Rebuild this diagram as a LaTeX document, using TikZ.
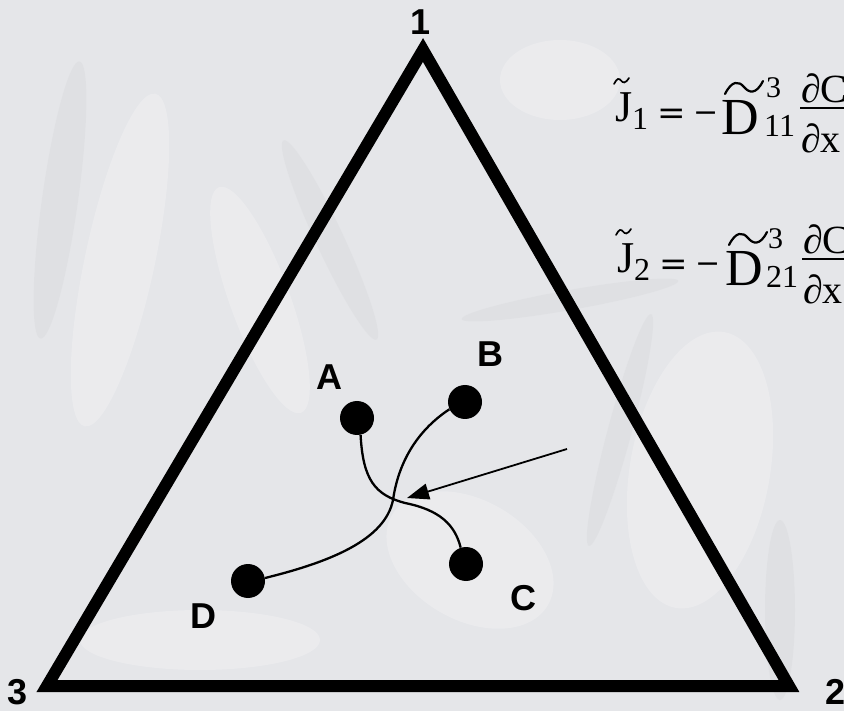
\documentclass[tikz,border=0pt]{standalone}
\usepackage{fontspec}
\setmainfont{Liberation Serif}
\newfontfamily\labfont{Liberation Sans}
\newfontfamily\symfont{DejaVu Serif}
\usetikzlibrary{arrows.meta}
\definecolor{bgc}{RGB}{229,230,233}
\definecolor{bgl}{RGB}{240,240,242}
\definecolor{bgd}{RGB}{214,215,218}
\tikzset{
  lab/.style={font={\labfont\bfseries\fontsize{36}{36}\selectfont}, inner sep=0pt, anchor=center},
  dot/.style={circle, fill=black, minimum size=34pt, inner sep=0pt},
  tri/.style={draw=black, line width=12pt, line join=miter, miter limit=20},
  trail/.style={draw=black, line width=2.3pt},
  eqp/.style={inner sep=0pt, anchor=base west},
  tld/.style={draw=black, line width=1.7pt, line cap=round},
  wtld/.style={draw=black, line width=2.2pt, line cap=round},
  blobl/.style={fill=bgl, opacity=.55},
  blobd/.style={fill=bgd, opacity=.35},
}
\newcommand\fsz[1]{\fontsize{#1}{#1}\selectfont}
\begin{document}
\begin{tikzpicture}[x=1pt, y=-1pt]
\useasboundingbox (0,0) rectangle (844,711);
\clip (0,0) rectangle (844,711);
% background (micrograph-like texture)
\fill[bgc] (0,0) rectangle (844,711);
\fill[blobl] (120,260) ellipse [x radius=35, y radius=170, rotate=-12];
\fill[blobd] (60,200) ellipse [x radius=18, y radius=140, rotate=-8];
\fill[blobl] (260,300) ellipse [x radius=30, y radius=120, rotate=20];
\fill[blobd] (330,240) ellipse [x radius=14, y radius=110, rotate=25];
\fill[blobl] (560,80) ellipse [x radius=60, y radius=40];
\fill[blobl] (700,470) ellipse [x radius=70, y radius=140, rotate=-10];
\fill[blobd] (620,430) ellipse [x radius=12, y radius=120, rotate=-15];
\fill[blobl] (470,560) ellipse [x radius=90, y radius=60, rotate=-30];
\fill[blobd] (780,610) ellipse [x radius=15, y radius=90];
\fill[blobl] (200,640) ellipse [x radius=120, y radius=30];
\fill[blobd] (570,300) ellipse [x radius=110, y radius=10, rotate=10];

% triangle
\coordinate (v1) at (423,50);
\coordinate (v2) at (789,686);
\coordinate (v3) at (47,686);
\draw[tri] (v1) -- (v2) -- (v3) -- cycle;
\node[lab] (n1) at (421,22) {1};
\node[lab] (n3) at (18,692) {3};
\node[lab] (n2) at (836,692) {2};

% dots and labels
\node[dot] (dA) at (357,418) {};
\node[dot] (dB) at (465,402) {};
\node[dot] (dC) at (466,564) {};
\node[dot] (dD) at (248,581) {};
\node[lab] (lA) at (329,377) {A};
\node[lab] (lB) at (490,354) {B};
\node[lab] (lC) at (523,598) {C};
\node[lab] (lD) at (203,616) {D};

% diffusion paths
\draw[trail] (dA.-78) .. controls (363,480) and (375,495) .. (405,503)
                      .. controls (440,510) and (455,525) .. (dC.108);
\draw[trail] (dB.205) .. controls (415,432) and (398,465) .. (393,500)
                      .. controls (385,540) and (330,562) .. (dD.10);
% arrow
\coordinate (atail) at (567,449);
\coordinate (ahead) at (407,498);
\draw[line width=1.8pt, -{Triangle[length=22pt, width=16pt]}] (atail) -- (ahead);

% equation 1
\node[eqp, font=\fsz{44}] (J1) at (615,122) {J};
\node[eqp, font=\fsz{32}] (s1) at (632,130) {1};
\node[eqp, font={\symfont\fsz{34}}] (e1) at (657,125) {=};
\node[eqp, font={\symfont\fsz{30}}] (m1) at (693,123) {−};
\node[eqp, font=\fsz{52}] (D1) at (721,135) {D};
\node[eqp, font=\fsz{30}] (p1) at (766,98) {3};
\node[eqp, font=\fsz{32}] (q1) at (764,137) {11};
\node[eqp, font=\fsz{40}] (u1) at (801,103) {∂C};
\node[eqp, font=\fsz{40}] (w1) at (801,153) {∂x};
\draw[line width=1.5pt] (800,108) -- (870,108);
\draw[tld] (614,84) .. controls (617,78) and (619,78) .. (621,80.5) .. controls (623,83) and (625,84) .. (629,78);
\draw[wtld] (725,94) .. controls (732,80) and (739,81) .. (744,87) .. controls (749,93) and (756,95) .. (763,81);

% equation 2
\begin{scope}[shift={(2,151)}]
\node[eqp, font=\fsz{44}] (J2) at (615,122) {J};
\node[eqp, font=\fsz{32}] (s2) at (632,130) {2};
\node[eqp, font={\symfont\fsz{34}}] (e2) at (657,125) {=};
\node[eqp, font={\symfont\fsz{30}}] (m2) at (693,123) {−};
\node[eqp, font=\fsz{52}] (D2) at (723,135) {D};
\node[eqp, font=\fsz{30}] (p2) at (766,98) {3};
\node[eqp, font=\fsz{32}] (q2) at (764,137) {21};
\node[eqp, font=\fsz{40}] (u2) at (801,103) {∂C};
\node[eqp, font=\fsz{40}] (w2) at (801,153) {∂x};
\draw[line width=1.5pt] (800,108) -- (870,108);
\draw[tld] (614,84) .. controls (617,78) and (619,78) .. (621,80.5) .. controls (623,83) and (625,84) .. (629,78);
\draw[wtld] (727,94) .. controls (734,80) and (741,81) .. (746,87) .. controls (751,93) and (758,95) .. (765,81);
\end{scope}
\end{tikzpicture}
\end{document}
